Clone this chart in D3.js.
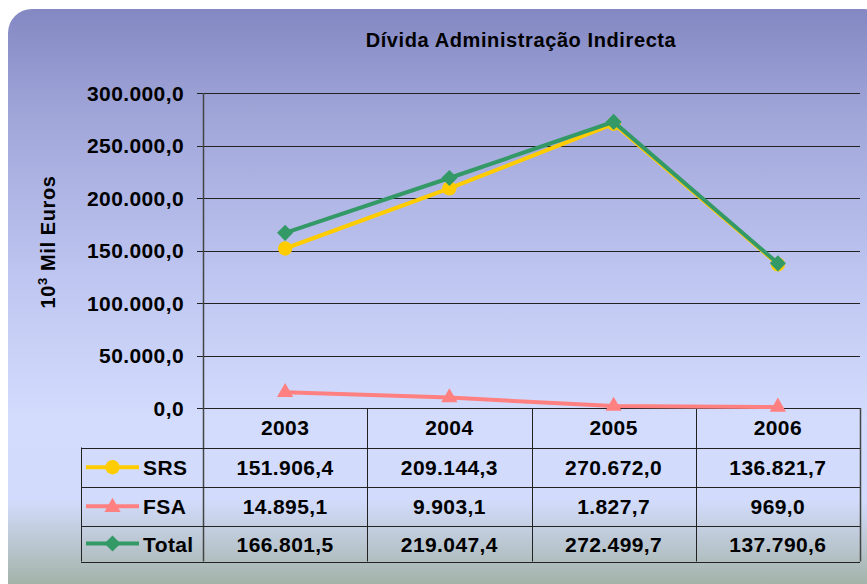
<!DOCTYPE html>
<html>
<head>
<meta charset="utf-8">
<script src="https://cdn.jsdelivr.net/npm/d3@7"></script>
<style>
  body { margin: 0; background: #fff; }
  svg text { font-family: "Liberation Sans", Arial, sans-serif; font-weight: bold; fill: #000; }
</style>
</head>
<body>
<div id="chart"></div>
<script>
// data
var categories = ['2003', '2004', '2005', '2006'];
var srs = [151906.4, 209144.3, 270672.0, 136821.7];
var fsa = [14895.1, 9903.1, 1827.7, 969.0];
var total = [166801.5, 219047.4, 272499.7, 137790.6];
var yTicks = [0, 50000, 100000, 150000, 200000, 250000, 300000];
var seriesNames = ['SRS', 'FSA', 'Total'];

var width = 867, height = 584;
var plot = { left: 203, right: 860, top: 93, bottom: 408 };
var rowLines = [408, 447.5, 487, 525.5, 561.5];
var tableLeft = 81;

var pt = d3.formatLocale({ decimal: ',', thousands: '.', grouping: [3], currency: ['', ''] });
var fmt = pt.format(',.1f');

// rotated square, like the excel diamond
var diamond = {
  draw: function(ctx, size) {
    var r = Math.sqrt(size / 2);
    ctx.moveTo(0, -r);
    ctx.lineTo(r, 0);
    ctx.lineTo(0, r);
    ctx.lineTo(-r, 0);
    ctx.closePath();
  }
};

var series = [
  { name: seriesNames[0], values: srs, color: '#ffcc00', marker: d3.symbolCircle, size: 160 },
  { name: seriesNames[1], values: fsa, color: '#ff8080', marker: d3.symbolTriangle, size: 115 },
  { name: seriesNames[2], values: total, color: '#339966', marker: diamond, size: 130 }
];

var svg = d3.select('#chart').append('svg')
    .attr('width', width)
    .attr('height', height);

var defs = svg.append('defs');
var grad = defs.append('linearGradient')
    .attr('id', 'bg')
    .attr('x1', 0).attr('y1', 0).attr('x2', 0).attr('y2', 1);
[[0, '#8488c3'], [0.18, '#a1a6d9'], [0.45, '#bfc6f1'], [0.68, '#d3dcfd'], [0.82, '#d2dbfb'], [0.9, '#b8c4cc'], [1, '#93a78f']]
  .forEach(function(s) {
    grad.append('stop').attr('offset', s[0]).attr('stop-color', s[1]);
  });

svg.append('rect')
    .attr('x', 8).attr('y', 9)
    .attr('width', 880).attr('height', 600)
    .attr('rx', 24).attr('ry', 24)
    .style('fill', 'url(#bg)');

var x = d3.scaleBand()
    .domain(categories)
    .range([plot.left, plot.right]);

var y = d3.scaleLinear()
    .domain([0, 300000])
    .range([plot.bottom, plot.top]);

// gridlines
svg.append('g').selectAll('line')
    .data(yTicks)
  .enter().append('line')
    .attr('x1', plot.left - 6)
    .attr('x2', plot.right)
    .attr('y1', function(d) { return Math.round(y(d)) + 0.5; })
    .attr('y2', function(d) { return Math.round(y(d)) + 0.5; })
    .style('stroke', '#222')
    .style('stroke-width', 1);

// y tick labels
svg.append('g').selectAll('text')
    .data(yTicks)
  .enter().append('text')
    .attr('x', 184)
    .attr('y', function(d) { return y(d) + 7.5; })
    .attr('text-anchor', 'end')
    .style('font-size', '21px')
    .style('letter-spacing', '0.4px')
    .text(function(d) { return fmt(d); });

// axis line
svg.append('line')
    .attr('x1', plot.left + 0.5).attr('x2', plot.left + 0.5)
    .attr('y1', plot.top).attr('y2', rowLines[4])
    .style('stroke', '#444').style('stroke-width', 1.5);

// title
svg.append('text')
    .attr('x', 521).attr('y', 47)
    .attr('text-anchor', 'middle')
    .style('font-size', '20px')
    .style('letter-spacing', '0.6px')
    .text('Dívida Administração Indirecta');

// y label
var yl = svg.append('text')
    .attr('transform', 'translate(55,242) rotate(-90)')
    .attr('text-anchor', 'middle')
    .style('font-size', '20px')
    .style('letter-spacing', '0.6px');
yl.append('tspan').text('10');
yl.append('tspan').attr('dy', -8).style('font-size', '13px').text('3');
yl.append('tspan').attr('dy', 8).text(' Mil Euros');

// table lines
var tbl = svg.append('g').style('stroke', '#222').style('stroke-width', 1);
rowLines.slice(1).forEach(function(r) {
  tbl.append('line')
      .attr('x1', tableLeft).attr('x2', plot.right)
      .attr('y1', Math.round(r) + 0.5).attr('y2', Math.round(r) + 0.5);
});
tbl.append('line')
    .attr('x1', tableLeft + 0.5).attr('x2', tableLeft + 0.5)
    .attr('y1', rowLines[1]).attr('y2', rowLines[4]);
categories.forEach(function(c) {
  var last = c === categories[categories.length - 1];
  var xe = Math.round(x(c) + x.bandwidth()) + 0.5;
  tbl.append('line')
      .attr('x1', xe).attr('x2', xe)
      .attr('y1', plot.bottom).attr('y2', rowLines[4])
      .style('stroke', last ? '#444' : '#222')
      .style('stroke-width', last ? 1.5 : 1);
});

// header
svg.append('g').selectAll('text')
    .data(categories)
  .enter().append('text')
    .attr('x', function(d) { return x(d) + x.bandwidth() / 2; })
    .attr('y', 434.5)
    .attr('text-anchor', 'middle')
    .style('font-size', '21px')
    .style('letter-spacing', '0.4px')
    .text(function(d) { return d; });

// rows
var baselines = [475, 513.5, 552];
series.forEach(function(s, i) {
  var row = svg.append('g');
  row.selectAll('text')
      .data(s.values)
    .enter().append('text')
      .attr('x', function(d, j) { return x(categories[j]) + x.bandwidth() / 2; })
      .attr('y', baselines[i])
      .attr('text-anchor', 'middle')
      .style('font-size', '21px')
      .style('letter-spacing', '0.4px')
      .text(function(d) { return fmt(d); });

  var ly = (rowLines[i + 1] + rowLines[i + 2]) / 2;
  row.append('line')
      .attr('x1', 86).attr('x2', 139)
      .attr('y1', ly).attr('y2', ly)
      .style('stroke', s.color).style('stroke-width', 4);
  row.append('path')
      .attr('d', d3.symbol().type(s.marker).size(s.size))
      .attr('transform', 'translate(112.5,' + (ly + (s.marker === d3.symbolTriangle ? 1 : 0)) + ')')
      .style('fill', s.color);
  row.append('text')
      .attr('x', 143).attr('y', baselines[i])
      .style('font-size', '21px')
      .style('letter-spacing', '0.4px')
      .text(s.name);
});

// lines and markers
var line = d3.line()
    .x(function(d, j) { return x(categories[j]) + x.bandwidth() / 2; })
    .y(function(d) { return y(d); });

series.forEach(function(s) {
  var g = svg.append('g');
  g.append('path')
      .attr('d', line(s.values))
      .style('fill', 'none')
      .style('stroke', s.color)
      .style('stroke-width', 4);
  g.selectAll('path.m')
      .data(s.values)
    .enter().append('path')
      .attr('class', 'm')
      .attr('d', d3.symbol().type(s.marker).size(s.size))
      .attr('transform', function(d, j) {
        return 'translate(' + (x(categories[j]) + x.bandwidth() / 2) + ',' + y(d) + ')';
      })
      .style('fill', s.color);
});
</script>
</body>
</html>
